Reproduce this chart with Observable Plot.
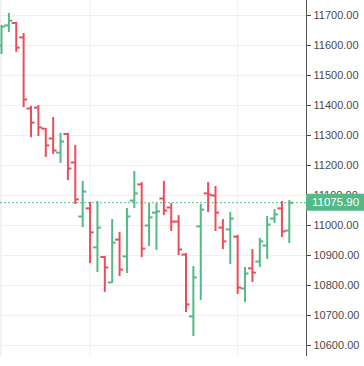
<!DOCTYPE html>
<html><head><meta charset="utf-8">
<script src="https://cdn.jsdelivr.net/npm/d3@7"></script>
<script src="https://cdn.jsdelivr.net/npm/@observablehq/plot@0.6"></script>
<style>body{margin:0;background:#fff;overflow:hidden} svg{display:block}</style>
</head><body><div id="chart"></div>
<script>
// OHLC data (40 sessions)
const opens  = [11600,11667,11675,11627,11390,11393,11323,11290,11243,11305,11210,11030,11057,10927,10895,10810,10953,10897,11083,11137,11000,11043,11090,11060,11013,10903,10697,10997,11107,11100,10993,10987,10963,10790,10857,10880,10933,11023,11057,10983];
const highs  = [11667,11707,11677,11640,11397,11400,11323,11360,11307,11307,11267,11147,11077,11080,10897,11020,10977,11057,11180,11143,11073,11073,11147,11073,11033,10907,10863,11070,11143,11130,11020,11043,10967,10860,10920,10957,11030,11053,11080,11083];
const lows   = [11570,11643,11577,11393,11293,11297,11227,11237,11207,11150,11070,10993,10873,10843,10777,10807,10830,10840,11057,10893,10930,10917,11033,10980,10900,10710,10630,10750,11043,10980,10920,10870,10770,10743,10810,10860,10887,11007,10960,10940];
const closes = [11663,11683,11593,11420,11343,11327,11267,11250,11280,11190,11087,11113,10977,10993,10860,10943,10853,11030,11107,10923,11027,11047,11050,11013,10920,10737,10827,11053,11103,11043,10947,11023,10793,10840,10843,10947,11003,11037,10980,11075.9];
const yTicks = [10600,10700,10800,10900,11000,11100,11200,11300,11400,11500,11600,11700];
const periodBreaks = [12, 32];
const lastPrice = 11075.90;

const data = opens.map((o, i) => ({i, open: o, high: highs[i], low: lows[i], close: closes[i], up: closes[i] >= o}));

const W = 364, H = 366, mR = 58, mB = 10;
const xDomain = [-0.1355, 41.33];
const yDomain = [10563.33, 11750];
const ppu = (W - mR) / (xDomain[1] - xDomain[0]);
const tk = 4 / ppu;
const green = "#53b987", red = "#eb4d5c";
const col = d => d.up ? green : red;

const priceLabel = (index, scales) => {
  const y = scales.y(lastPrice);
  const g = d3.create("svg:g");
  g.append("rect").attr("x", W - mR).attr("y", y - 8.5).attr("width", mR).attr("height", 17).attr("fill", green);
  g.append("text").attr("x", W - mR + 6).attr("y", y).attr("dy", "0.36em")
    .attr("text-anchor", "start")
    .attr("fill", "#fff").attr("font-size", 11.5).attr("font-family", "Liberation Sans, Arial, sans-serif")
    .text(lastPrice.toFixed(2));
  return g.node();
};

const chart = Plot.plot({
  width: W, height: H,
  marginLeft: 0, marginRight: mR, marginTop: 0, marginBottom: mB,
  style: {fontFamily: "Liberation Sans, Arial, sans-serif", fontSize: "11px", background: "#fff"},
  x: {type: "linear", domain: xDomain, axis: null},
  y: {type: "linear", domain: yDomain, axis: null},
  marks: [
    Plot.ruleY(yTicks, {stroke: "#efefef", strokeWidth: 1}),
    Plot.ruleX(periodBreaks, {stroke: "#efefef", strokeWidth: 1}),
    Plot.ruleX([xDomain[0]], {stroke: "#efefef", strokeWidth: 2}),
    Plot.ruleY([lastPrice], {stroke: green, strokeWidth: 1, strokeDasharray: "2,2"}),
    Plot.ruleX(data, {x: "i", y1: "low", y2: "high", stroke: col, strokeWidth: 2}),
    Plot.ruleY(data, {y: "open", x1: d => d.i - tk, x2: "i", stroke: col, strokeWidth: 2}),
    Plot.ruleY(data, {y: "close", x1: "i", x2: d => d.i + tk, stroke: col, strokeWidth: 2}),
    Plot.ruleX([xDomain[1]], {stroke: "#555", strokeWidth: 1}),
    Plot.axisY(yTicks, {anchor: "right", tickSize: 4, tickPadding: 3, tickFormat: d => d.toFixed(2), color: "#4a4a4a", fontSize: 11}),
    priceLabel
  ]
});
document.getElementById("chart").append(chart);
</script>
</body></html>
